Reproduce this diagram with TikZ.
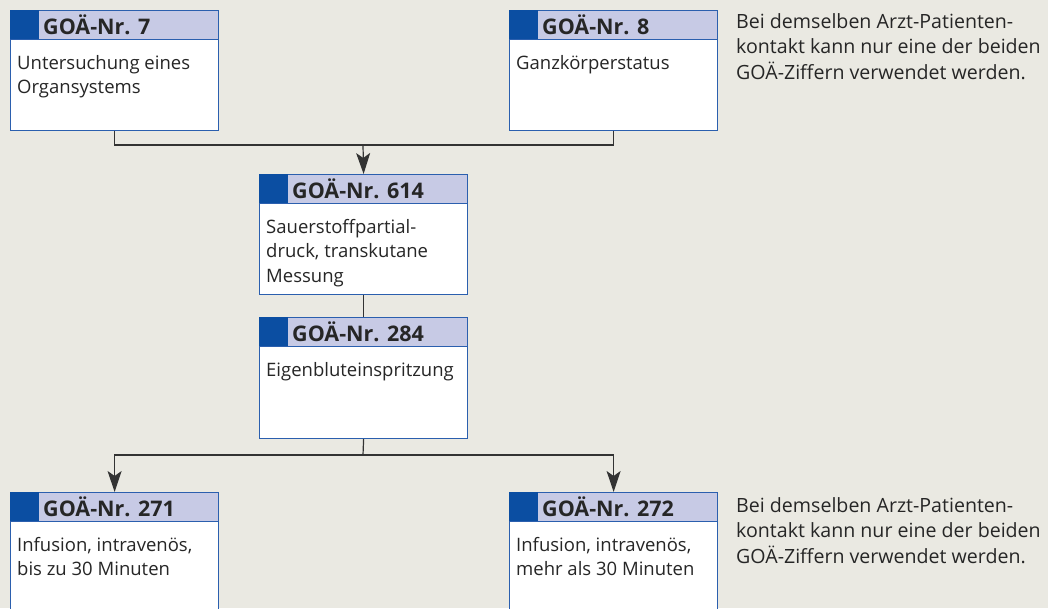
\documentclass[tikz,border=0pt]{standalone}
\usepackage{fontspec}
\setmainfont{Open Sans}
\usetikzlibrary{arrows.meta}

\definecolor{paper}{HTML}{EAE9E2}
\definecolor{goaframe}{HTML}{2B5FAE}
\definecolor{goahead}{HTML}{C7CAE5}
\definecolor{goamark}{HTML}{0B4EA2}
\definecolor{linegray}{HTML}{333333}

\tikzset{
  goabox/.style = {draw=goaframe, line width=1.2pt, fill=white, minimum width=208pt, anchor=north west, inner sep=0pt},
  goahd/.style = {draw=goaframe, line width=0.6pt, fill=goahead, minimum width=208pt, minimum height=29pt, anchor=north west, inner sep=0pt},
  goasq/.style = {fill=goamark, minimum width=29pt, minimum height=29pt, anchor=north west, inner sep=0pt},
  goanr/.style = {font=\fontsize{21.5}{22}\selectfont\bfseries, text=black!85, anchor=base west, inner sep=0pt},
  goatxt/.style = {font=\fontsize{18.5}{24.5}\selectfont, text=black!85, align=left, anchor=north west, inner sep=0pt},
  notetxt/.style = {font=\fontsize{19.6}{25.5}\selectfont, text=black!85, align=left, anchor=north west, inner sep=0pt},
  conn/.style = {draw=linegray, line width=1.2pt},
  arr/.style = {-{Stealth[length=21pt, width=14pt, inset=5pt]}}
}

\begin{document}
\begin{tikzpicture}[x=1pt, y=-1pt]
\useasboundingbox (0,0) rectangle (1048,608);
\fill[paper] (0,0) rectangle (1048,608);

% obere Reihe
\node[goabox, minimum height=120pt] (b7) at (10,10) {};
\node[goahd] (h7) at (b7.north west) {};
\node[goasq] (s7) at (b7.north west) {};
\node[goanr] (n7) at ([shift={(33,24.5)}]b7.north west) {GOÄ-Nr. 7};
\node[goatxt] (t7) at ([shift={(7,45)}]b7.north west) {Untersuchung eines\\Organsystems};

\node[goabox, minimum height=120pt] (b8) at (509,10) {};
\node[goahd] (h8) at (b8.north west) {};
\node[goasq] (s8) at (b8.north west) {};
\node[goanr] (n8) at ([shift={(33,24.5)}]b8.north west) {GOÄ-Nr. 8};
\node[goatxt] (t8) at ([shift={(7,45)}]b8.north west) {Ganzkörperstatus};

\node[notetxt] (note1) at (736,13) {Bei demselben Arzt-Patienten-\\kontakt kann nur eine der beiden\\GOÄ-Ziffern verwendet werden.};

% Mitte
\node[goabox, minimum height=120pt] (b614) at (259,174) {};
\node[goahd] (h614) at (b614.north west) {};
\node[goasq] (s614) at (b614.north west) {};
\node[goanr] (n614) at ([shift={(33,24.5)}]b614.north west) {GOÄ-Nr. 614};
\node[goatxt] (t614) at ([shift={(7,45)}]b614.north west) {Sauerstoffpartial-\\druck, transkutane\\Messung};

\node[goabox, minimum height=121pt] (b284) at (259,317) {};
\node[goahd] (h284) at (b284.north west) {};
\node[goasq] (s284) at (b284.north west) {};
\node[goanr] (n284) at ([shift={(33,24.5)}]b284.north west) {GOÄ-Nr. 284};
\node[goatxt] (t284) at ([shift={(7,45)}]b284.north west) {Eigenbluteinspritzung};

% untere Reihe
\node[goabox, minimum height=130pt] (b271) at (10,492) {};
\node[goahd] (h271) at (b271.north west) {};
\node[goasq] (s271) at (b271.north west) {};
\node[goanr] (n271) at ([shift={(33,24.5)}]b271.north west) {GOÄ-Nr. 271};
\node[goatxt] (t271) at ([shift={(7,45)}]b271.north west) {Infusion, intravenös,\\bis zu 30 Minuten};

\node[goabox, minimum height=130pt] (b272) at (509,492) {};
\node[goahd] (h272) at (b272.north west) {};
\node[goasq] (s272) at (b272.north west) {};
\node[goanr] (n272) at ([shift={(33,24.5)}]b272.north west) {GOÄ-Nr. 272};
\node[goatxt] (t272) at ([shift={(7,45)}]b272.north west) {Infusion, intravenös,\\mehr als 30 Minuten};

\node[notetxt] (note2) at (736,497) {Bei demselben Arzt-Patienten-\\kontakt kann nur eine der beiden\\GOÄ-Ziffern verwendet werden.};

% Verbindungen
\coordinate (split1) at (363,145);
\coordinate (split2) at (363,455);
\draw[conn] (b7.south) |- (split1) -| (b8.south);
\draw[conn, arr] (split1) -- (b614.north);
\draw[conn] (b614.south) -- (b284.north);
\draw[conn] (b284.south) -- (split2);
\draw[conn, arr] (split2) -| (b271.north);
\draw[conn, arr] (split2) -| (b272.north);
\end{tikzpicture}
\end{document}
